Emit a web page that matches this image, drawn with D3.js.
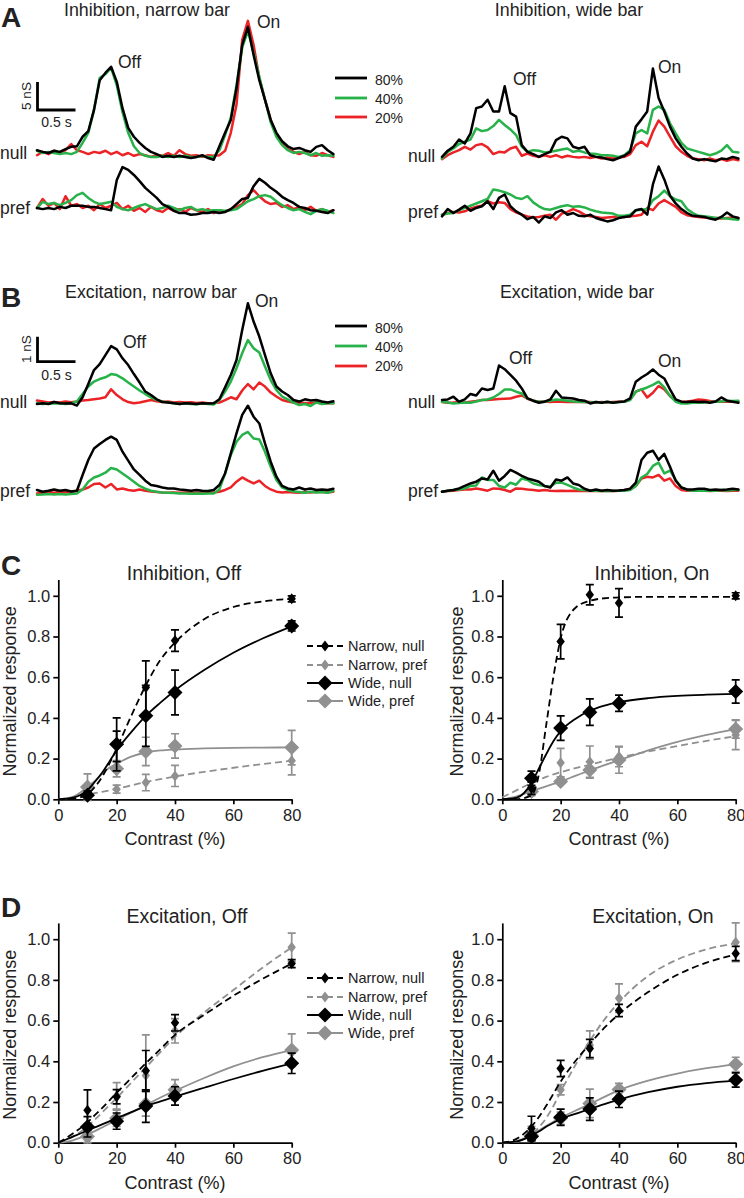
<!DOCTYPE html>
<html><head><meta charset="utf-8">
<script src="https://cdn.jsdelivr.net/npm/d3@7"></script>
<style>
body{margin:0;background:#fff}
svg{display:block}
text{font-family:"Liberation Sans",Arial,Helvetica,sans-serif;fill:#222}
</style>
</head><body>
<svg id="fig" width="744" height="1198"></svg>
<script>
// ---------------- DATA ----------------
// Conductance traces, sampled every 0.075 s (values in nS)
const sampleInterval = 0.075;
const contrastLabels = ["80%", "40%", "20%"];

// Inhibition, narrow bar
const inhNarrowNull80 = [0.5,0.2,0,0.4,0.2,0.7,1.1,1.2,2.9,3.9,
 7.7,13,14.3,15.4,12.7,8,4.5,2.9,1.8,0.9,
 0.2,-0.2,-0.7,-0.5,-0.7,-0.5,-0.7,-0.9,-0.7,-0.4,
 -0.9,-1.2,1.2,3.6,5.9,11.6,19.3,22.5,17.5,13,
 9.5,5.9,3.6,2.1,1.2,0.7,0.9,0.5,0.2,1.1,
 1.4,0.5,-0.2];
const inhNarrowNull40 = [0.4,0,0.2,0,-0.2,0,-0.2,0.2,1.8,3.6,
 7.7,13.4,14.1,15.2,12.1,7.3,3.6,1.2,0,-0.5,
 -0.7,-0.7,-0.5,-0.7,-0.5,-0.7,-0.5,-0.7,-0.7,-0.5,
 -0.7,-0.7,0.5,3.2,6.3,12.1,18.8,21.8,17.9,13.6,
 9.5,5.5,2.9,1.4,0.5,0,0.2,0,-0.4,0,
 -0.5,-0.4,-0.5];
const inhNarrowNull20 = [-0.4,0.2,-0.2,0.4,0,0.5,1.6,0.5,0.2,-0.2,
 0.2,0,0.4,-0.2,0.2,-0.4,0,-0.5,-0.2,-0.4,
 -0.7,-0.4,-0.5,0,-0.5,0.5,-0.2,-0.5,-0.4,-0.7,
 -0.4,-0.5,-0.4,0.4,3.6,8.6,20.2,23.6,19.3,13.4,
 9.5,5.9,3.4,1.8,0.7,0.2,-0.2,0.2,-0.4,-0.5,
 0,-0.4,-0.7];
const inhNarrowPref80 = [0,-0.2,0,-0.2,0.2,0,0.4,0.4,0.4,0.2,
 0.2,0,-0.2,-0.4,5,7.3,6.8,5.9,4.8,3.6,
 2.7,1.8,0.7,0.2,-0.5,-0.9,-0.9,-1.2,-1.1,-0.9,
 -0.9,-0.7,-0.9,-0.7,-0.2,0.7,1.6,1.8,3.9,5.2,
 4.5,3.6,2.9,2,1.4,0.9,0.2,0,-0.4,-0.5,
 -0.7,-0.9,-0.4];
const inhNarrowPref40 = [0,1.1,0.7,0.9,0.5,0.9,1.4,2.3,2.7,1.8,
 1.1,0.7,0.9,1.1,0.2,-0.2,-0.4,0,0.4,0.7,
 0.2,-0.2,0,0.4,0,-0.4,0,0.2,-0.4,-0.2,
 -0.5,-0.4,-0.4,-0.5,-0.4,-0.2,0.5,1.2,1.6,2.1,
 2.3,2,1.2,0.5,0,-0.4,-0.2,-0.7,-1.1,-0.5,
 -0.2,-0.5,-0.9];
const inhNarrowPref20 = [0,1.6,0.4,0.9,-0.2,2.1,0.4,0.7,0,0.4,
 -0.4,0.7,0,0.4,0.9,-0.2,0.4,-0.5,0,-0.7,
 0.2,-0.4,-0.7,0,-0.5,-0.2,-0.7,0,-0.4,-0.7,
 -0.2,-0.9,-0.4,-0.7,-0.2,0.2,0.7,2.3,3.2,2.1,
 1.2,0.7,0.9,0.2,0.5,-0.2,0.2,-0.4,0.2,-0.5,
 -0.2,-0.7,-0.4];

// Inhibition, wide bar
const inhWideNull80 = [0.2,1.3,2,3.3,2.6,4.4,8.9,9.2,10.4,8.3,
 8.3,12.8,8,7.4,2.3,1.1,0.7,0.2,0.7,1.1,
 3.2,3.8,3.5,2,1.7,2,0.5,0.2,0.1,-0.2,
 -0.4,0,0.4,1.1,5.6,6.9,8.3,16,10.7,8.3,
 5.6,3.5,2,0.8,-0.1,-0.4,-0.2,-0.4,-0.6,-0.1,
 -0.2,0.2,-0.1];
const inhWideNull40 = [-0.1,1.1,1.7,2.5,2.9,3.3,5.3,4.8,5,5.7,
 6.8,5.9,5.1,4.1,2,1.1,1.4,1.3,1,1.1,
 1.3,1.5,1.7,1.1,1.3,1,0.8,0.7,0.5,0.5,
 0.4,0.2,0.5,1.4,4.4,5,4.4,8.6,9.2,8.6,
 6.2,4.4,2.7,1.7,1.4,1.1,0.8,0.5,0.8,1.3,
 2.3,1.1,1];
const inhWideNull20 = [-0.2,0.5,1,1.4,2,1.5,2.3,2.5,1.9,0.7,
 1.1,1,1.7,2,0.4,0.8,0.4,0.2,0.5,0.2,
 0.5,0.1,0.4,0.2,0.1,0.2,0,0.2,-0.1,0.1,
 -0.1,0.1,0.2,0.7,2.3,2.9,2.1,4.7,6.7,5.6,
 3.8,2.1,1.1,0.4,-0.1,-0.2,-0.4,-0.1,-0.4,-0.2,
 -0.5,-0.2,-0.4];
const inhWidePref80 = [-0.6,0.7,0,0.6,1.3,0.4,0.9,1.2,2.1,0.7,
 2.7,3.3,1.2,0.3,-0.3,-1.1,-0.7,-1.7,-0.6,-0.9,
 0.1,0.5,-0.3,0,-0.5,-0.6,-0.3,-0.9,-1.2,-1.5,
 -1.3,-0.9,-0.7,-0.6,0.5,0.7,-0.3,5.1,8.3,6,
 3.1,1.7,0.7,0,-0.5,-0.6,-0.7,-1,-1.2,-0.7,
 0.1,-0.6,-0.9];
const inhWidePref40 = [-0.3,-0.1,0,0.5,0.9,1.3,1.7,2.1,2.5,4.2,
 4,3.7,3.3,2.7,2.5,3,1.9,1.2,0.7,0.6,
 0.9,1.2,1.4,1.1,1.2,1,0.6,0.3,0.1,0,
 -0.1,-0.5,-0.5,-0.3,0.5,0.6,0.7,2.3,3,4,
 3,2.4,2.1,0.7,0,-0.5,-0.6,-0.7,-0.9,-0.9,
 -1,-1.1,-1.2];
const inhWidePref20 = [-0.3,0,0.2,0.1,0.3,0.8,1.1,1.3,2.1,1.7,
 1.9,1.8,0.7,0.1,-0.3,-0.6,-0.8,-0.7,-0.5,-0.3,
 -1.2,-0.1,0.2,0.7,0.3,-0.3,-0.6,-0.7,-0.9,-0.8,
 -0.7,-0.6,-0.7,-0.6,-0.5,-0.3,0.9,0.5,1.7,2.3,
 1.7,1.1,0.1,-0.4,-0.6,-0.7,-0.8,-0.9,-0.9,-1,
 -0.9,-0.8,-0.9];

// Excitation, narrow bar
const excNarrowNull80 = [-0.03,0,-0.03,0.05,0,-0.01,0,-0.09,0.24,0.77,
 1.33,1.57,1.93,2.29,2.16,1.8,1.53,1.17,0.83,0.47,
 0.33,0.16,0.05,0.03,0,-0.03,0,-0.01,-0.03,0,
 -0.01,0,0.16,0.64,1.13,1.73,2.93,4,3.27,2.67,
 1.93,1.2,0.67,0.47,0.33,0.13,0.07,0.16,0.11,0.13,
 0.07,0.03,0.08];
const excNarrowNull40 = [0,-0.03,0,-0.01,0,-0.03,0,0.07,0.37,0.67,
 0.87,0.97,1.04,1.17,1.13,1,0.83,0.67,0.51,0.37,
 0.24,0.13,0.07,0.03,0,-0.03,0,-0.03,-0.04,-0.01,
 -0.03,-0.05,0.13,0.47,0.87,1.4,2,2.53,2.2,2.03,
 1.47,0.93,0.53,0.27,0.16,0.03,-0.07,-0.03,-0.11,0.03,
 -0.03,0,0];
const excNarrowNull20 = [0.11,0.07,0.03,0.05,0.03,0.07,0.04,0.07,0.11,0.13,
 0.16,0.19,0.24,0.56,0.33,0.16,0.05,0,0.03,0.08,
 0.13,0.08,0.05,0.07,0.03,0.05,0.03,0.04,0.01,0.03,
 0,0.01,0.03,0.13,0.24,0.16,0.51,0.77,0.56,0.83,
 0.67,0.43,0.27,0.13,0.07,0.03,0,0.01,0,0.03,
 0,0.01,0];
const excNarrowPref80 = [0.07,0,0.04,0.09,0.04,0.07,0.01,0.04,0.67,1.27,
 1.73,1.91,2.07,2.2,2.07,1.6,1.24,0.89,0.67,0.44,
 0.27,0.23,0.17,0.13,0.13,0.09,0.07,0.04,0.07,0.04,
 0.03,0.07,0.27,0.73,1.53,2.33,3.07,3.44,3,2.73,
 1.93,1.2,0.6,0.23,0.13,0.09,0.17,0.09,0.13,0.07,
 0.09,0.07,0.12];
const excNarrowPref40 = [-0.12,-0.11,-0.09,-0.11,-0.09,-0.11,-0.09,-0.07,0.09,0.4,
 0.57,0.65,0.76,0.95,0.89,0.73,0.57,0.4,0.23,0.12,
 0.04,0,-0.03,-0.04,-0.05,-0.07,-0.07,-0.08,-0.07,-0.08,
 -0.07,-0.07,0.09,0.73,1.47,2,2.27,2.39,2.13,2.09,
 1.6,1,0.47,0.17,0.07,0.01,-0.01,-0.04,0,-0.03,
 -0.01,-0.04,0.04];
const excNarrowPref20 = [-0.07,-0.04,-0.01,-0.04,0,-0.03,0,0.04,0.09,0.17,
 0.31,0.33,0.17,0.31,0.09,0.13,0.07,0.04,0.09,0.04,
 0.01,-0.01,-0.03,-0.04,-0.03,-0.04,-0.03,-0.04,-0.04,-0.03,
 -0.04,-0.03,0,0.07,0.17,0.4,0.57,0.44,0.33,0.44,
 0.23,0.09,0,-0.03,-0.01,-0.03,-0.04,-0.01,-0.03,0,
 -0.01,-0.03,0];

// Excitation, wide bar
const excWideNull80 = [0.07,0.09,0.2,0,0.09,0.31,0.25,0.53,0.47,0.53,
 1.45,1.3,1.07,0.84,0.53,0.13,0.04,-0.04,0,0.09,
 0.44,0.17,0.15,0.13,0.07,0.04,-0.07,-0.01,-0.04,0,
 -0.04,-0.01,0.01,0.13,0.8,0.97,1.11,1.29,1.08,0.93,
 0.49,0.09,0,-0.01,0.01,-0.01,0,-0.04,0.01,0.17,
 0.04,0,-0.04];
const excWideNull40 = [0,-0.03,-0.07,-0.05,-0.03,-0.04,0.01,0.07,0.09,0.17,
 0.31,0.49,0.49,0.4,0.33,0.13,0.04,0,0.01,0.04,
 0.09,0.07,0.04,0.01,0,-0.01,-0.03,-0.01,-0.03,-0.01,
 -0.03,-0.01,0,0.07,0.4,0.49,0.57,0.67,0.8,0.57,
 0.23,0,-0.07,-0.07,-0.04,-0.04,-0.03,-0.01,0,0.01,
 0.04,0.03,0.04];
const excWideNull20 = [-0.01,-0.04,-0.03,-0.01,-0.03,0,0.03,0.07,0.07,0.09,
 0.11,0.12,0.13,0.2,0.25,0.12,0.04,0,0.01,-0.01,
 0.01,0,-0.01,0,-0.01,0,-0.01,-0.03,-0.01,-0.03,
 -0.01,0,0.01,0.09,0.4,0.49,0.17,0.36,0.63,0.49,
 0.23,0.04,0,0.01,0.04,0.09,0.07,0.03,0,0.01,
 0,0.01,0];
const excWidePref80 = [-0.04,0,0.03,0.09,0.19,0.29,0.36,0.49,0.45,0.8,
 0.4,0.59,0.83,0.72,0.59,0.49,0.43,0.36,0.19,0.13,
 0.45,0.4,0.53,0.29,0.23,0.08,0,0.05,0,0.03,
 0,0.01,0.03,0.08,0.32,1.23,1.52,1.6,1.23,1.47,
 0.96,0.4,0.13,0.05,0.05,0.08,0.08,0.03,0.05,0.03,
 0.05,0.08,0.05];
const excWidePref40 = [-0.04,0,0.03,0.05,0.09,0.19,0.21,0.53,0.43,0.43,
 0.19,0.13,0.32,0.24,0.49,0.43,0.29,0.23,0.19,0.16,
 0.32,0.32,0.23,0.13,0.05,0.03,0,0,-0.01,0,
 -0.01,0,0,0.03,0.19,0.53,0.67,0.99,1.12,0.69,
 0.8,0.43,0.13,0.03,0,0.01,0,0.01,0,0.03,
 0.01,0.03,0.03];
const excWidePref20 = [-0.04,-0.01,0,0.03,0.05,0.05,0.09,0.05,0,0.09,
 0.08,0.03,-0.04,0.09,0.08,0.05,0.03,0,0.03,0,
 -0.01,0,-0.01,0,-0.01,0,-0.01,0,-0.01,0,
 -0.01,0,0.03,0.05,0.19,0.49,0.56,0.53,0.63,0.4,
 0.49,0.19,0.03,0,0,0,0,-0.01,0,0,
 -0.01,0,0];

// Contrast-response data (series order: Narrow null, Narrow pref, Wide null, Wide pref)
const seriesNames = ["Narrow, null", "Narrow, pref", "Wide, null", "Wide, pref"];
const contrastLevels = [10, 20, 30, 40, 80];
const fitContrast = [0, 5, 10, 12.5, 15, 17.5, 20, 25, 30, 35, 40, 50, 60, 70, 80];
const xTicks = [0, 20, 40, 60, 80];
const yTicks = [0, 0.2, 0.4, 0.6, 0.8, 1.0];

const inhOffMeans = [[0.025,0.26,0.55,0.78,0.985],[0.02,0.05,0.082,0.115,0.19],[0.02,0.27,0.41,0.525,0.852],[0.06,0.15,0.235,0.262,0.254]];
const inhOffSems  = [[0.015,0.075,0.13,0.053,0.015],[0.01,0.02,0.04,0.052,0.07],[0.01,0.13,0.15,0.11,0.025],[0.065,0.04,0.07,0.06,0.085]];
const inhOffFits  = [
 [0,0.003,0.025,0.06,0.11,0.175,0.25,0.41,0.56,0.685,0.77,0.885,0.945,0.972,0.985],
 [0,0.008,0.022,0.03,0.037,0.044,0.052,0.068,0.085,0.099,0.112,0.135,0.155,0.173,0.19],
 [0,0.008,0.045,0.085,0.13,0.185,0.24,0.33,0.41,0.475,0.535,0.635,0.72,0.79,0.85],
 [0,0.012,0.06,0.09,0.125,0.155,0.175,0.21,0.23,0.24,0.245,0.25,0.253,0.254,0.255]];

const inhOnMeans = [[0.054,0.775,1.005,0.965,1.0],[0.06,0.18,0.185,0.21,0.316],[0.103,0.35,0.428,0.472,0.53],[0.038,0.087,0.144,0.193,0.346]];
const inhOnSems  = [[0.03,0.085,0.05,0.07,0.015],[0.03,0.07,0.077,0.05,0.072],[0.035,0.06,0.065,0.04,0.057],[0.02,0.01,0.04,0.065,0.045]];
const inhOnFits  = [
 [0,0.001,0.02,0.12,0.36,0.6,0.79,0.94,0.975,0.988,0.992,0.995,0.995,0.995,0.995],
 [0.01,0.045,0.08,0.095,0.11,0.122,0.133,0.153,0.17,0.188,0.205,0.235,0.262,0.287,0.31],
 [0,0.008,0.08,0.15,0.22,0.285,0.335,0.395,0.435,0.46,0.477,0.497,0.508,0.514,0.518],
 [0,0.015,0.04,0.052,0.064,0.076,0.088,0.115,0.142,0.168,0.192,0.24,0.282,0.316,0.345]];

const excOffMeans = [[0.16,0.226,0.353,0.589,0.88],[0.04,0.23,0.33,0.55,0.96],[0.078,0.106,0.18,0.23,0.39],[0.03,0.12,0.19,0.26,0.455]];
const excOffSems  = [[0.1,0.035,0.1,0.04,0.02],[0.04,0.065,0.2,0.06,0.07],[0.05,0.04,0.08,0.045,0.05],[0.03,0.04,0.06,0.05,0.08]];
const excOffFits  = [
 [0,0.045,0.1,0.135,0.17,0.207,0.245,0.318,0.39,0.46,0.53,0.628,0.722,0.805,0.88],
 [0,0.03,0.08,0.113,0.148,0.184,0.22,0.295,0.37,0.445,0.52,0.64,0.75,0.86,0.96],
 [0,0.03,0.06,0.075,0.09,0.105,0.12,0.15,0.18,0.203,0.226,0.27,0.313,0.353,0.39],
 [0,0.012,0.04,0.057,0.075,0.093,0.112,0.148,0.185,0.222,0.255,0.318,0.375,0.42,0.455]];

const excOnMeans = [[0.07,0.365,0.463,0.65,0.93],[0.05,0.26,0.48,0.71,0.985],[0.03,0.125,0.165,0.213,0.308],[0.035,0.12,0.193,0.262,0.385]];
const excOnSems  = [[0.06,0.04,0.045,0.03,0.035],[0.03,0.025,0.07,0.07,0.095],[0.02,0.04,0.055,0.04,0.035],[0.02,0.03,0.07,0.03,0.035]];
const excOnFits  = [
 [0,0.02,0.08,0.125,0.18,0.24,0.3,0.4,0.485,0.565,0.632,0.74,0.825,0.885,0.925],
 [0,0.005,0.04,0.075,0.12,0.18,0.25,0.38,0.5,0.605,0.69,0.82,0.9,0.95,0.98],
 [0,0.006,0.035,0.055,0.078,0.098,0.116,0.142,0.166,0.19,0.212,0.248,0.275,0.293,0.305],
 [0,0.008,0.04,0.06,0.082,0.103,0.122,0.157,0.19,0.225,0.258,0.305,0.34,0.366,0.385]];

// ---------------- DRAWING ----------------
const svg = d3.select("#fig");
svg.append("rect").attr("width",744).attr("height",1198).attr("fill","#fff");
const BLACK = "#000", GREEN = "#27b24a", RED = "#ec2326", GRAY = "#909090";
const traceColors = [BLACK, GREEN, RED];   // 80%, 40%, 20%
const FONT = '"Liberation Sans",Arial,Helvetica,sans-serif';

function txt(x, y, s, size, opt = {}) {
  const t = svg.append("text").attr("x", x).attr("y", y).text(s)
    .attr("font-size", size).attr("text-anchor", opt.anchor || "start")
    .attr("font-weight", opt.bold ? "bold" : "normal");
  if (opt.rotate) t.attr("transform", `rotate(-90,${x},${y})`);
  return t;
}

// Panel letters
txt(1, 27, "A", 28, {bold: true});
txt(1, 307, "B", 28, {bold: true});
txt(1, 575, "C", 28, {bold: true});
txt(1, 917, "D", 28, {bold: true});

// ---- trace panels ----
const tracePanels = [
  {x0: 37,  title: "Inhibition, narrow bar", tx: 147, ty: 16, unit: 5, unitPx: 28,
   rows: [{label: "null", lx: 0, ly: 159, base: 153, traces: [inhNarrowNull80, inhNarrowNull40, inhNarrowNull20]},
          {label: "pref", lx: 0, ly: 214, base: 208, traces: [inhNarrowPref80, inhNarrowPref40, inhNarrowPref20]}],
   off: [118, 68], on: [257, 28]},
  {x0: 442, title: "Inhibition, wide bar", tx: 569, ty: 16, unit: 5, unitPx: 28,
   rows: [{label: "null", lx: 408, ly: 162, base: 158, traces: [inhWideNull80, inhWideNull40, inhWideNull20]},
          {label: "pref", lx: 408, ly: 218, base: 213, traces: [inhWidePref80, inhWidePref40, inhWidePref20]}],
   off: [513, 85], on: [658, 73]},
  {x0: 37,  title: "Excitation, narrow bar", tx: 151, ty: 298, unit: 1, unitPx: 25,
   rows: [{label: "null", lx: 0, ly: 408, base: 403.3, traces: [excNarrowNull80, excNarrowNull40, excNarrowNull20]},
          {label: "pref", lx: 0, ly: 497, base: 491.7, traces: [excNarrowPref80, excNarrowPref40, excNarrowPref20]}],
   off: [123, 348], on: [255, 307]},
  {x0: 442, title: "Excitation, wide bar", tx: 577, ty: 298, unit: 1, unitPx: 25,
   rows: [{label: "null", lx: 408, ly: 408, base: 401.7, traces: [excWideNull80, excWideNull40, excWideNull20]},
          {label: "pref", lx: 408, ly: 497, base: 490.7, traces: [excWidePref80, excWidePref40, excWidePref20]}],
   off: [509, 364], on: [658, 367]}
];

tracePanels.forEach(p => {
  const x = d3.scaleLinear().domain([0, 0.5]).range([p.x0, p.x0 + 38]);
  txt(p.tx, p.ty, p.title, 17.8, {anchor: "middle"});
  p.rows.forEach(r => {
    const y = d3.scaleLinear().domain([0, p.unit]).range([r.base, r.base - p.unitPx]);
    const line = d3.line().x((d, i) => x(i * sampleInterval)).y(d => y(d));
    // draw red, green, then black on top
    [2, 1, 0].forEach(k => {
      svg.append("path").attr("d", line(r.traces[k])).attr("fill", "none")
        .attr("stroke", traceColors[k]).attr("stroke-width", 2.5)
        .attr("stroke-linejoin", "round").attr("stroke-linecap", "round");
    });
    txt(r.lx, r.ly, r.label, 17.5);
  });
  txt(p.off[0], p.off[1], "Off", 17.5);
  txt(p.on[0], p.on[1], "On", 17.5);
});

// scale bars
function scaleBar(x0, yBottom, unit, unitPx, label, textY) {
  const ts = d3.scaleLinear().domain([0, 0.5]).range([x0, x0 + 38]);
  const cs = d3.scaleLinear().domain([0, unit]).range([yBottom, yBottom - unitPx]);
  svg.append("path")
    .attr("d", `M${ts(0)},${cs(unit)}L${ts(0)},${cs(0)}L${ts(0.5)},${cs(0)}`)
    .attr("fill", "none").attr("stroke", BLACK).attr("stroke-width", 2.8);
  txt(x0 - 6.5, (cs(0) + cs(unit)) / 2, label, 13.5, {anchor: "middle", rotate: true});
  txt((ts(0) + ts(0.5)) / 2, textY, "0.5 s", 14, {anchor: "middle"});
}
scaleBar(37.5, 110, 5, 28, "5 nS", 127);
scaleBar(37.5, 361.7, 1, 25, "1 nS", 380);

// contrast legends for traces
function traceLegend(ys, tys) {
  contrastLabels.forEach((lab, k) => {
    svg.append("line").attr("x1", 335).attr("x2", 367).attr("y1", ys[k]).attr("y2", ys[k])
      .attr("stroke", traceColors[k]).attr("stroke-width", 2.8);
    txt(375, tys[k], lab, 14);
  });
}
traceLegend([78, 98, 117], [85, 104, 123]);
traceLegend([326, 346, 366], [333, 352, 371]);

// ---- contrast panels ----
const seriesStyle = [
  {color: BLACK, dash: "7,4", big: false},
  {color: GRAY,  dash: "7,4", big: false},
  {color: BLACK, dash: null,  big: true},
  {color: GRAY,  dash: null,  big: true}
];
const drawOrder = [1, 3, 0, 2];

function diamond(w, h) { return `M0,${-h}L${w},0L0,${h}L${-w},0Z`; }
function markerPath(big) { return big ? diamond(7.5, 7.5) : diamond(4.2, 5.5); }

const contrastPanels = [
  {x0: 58.3,  y0: 799.3,  title: "Inhibition, Off", tx: 184, ty: 580, means: inhOffMeans, sems: inhOffSems, fits: inhOffFits, ylx: 16},
  {x0: 502.3, y0: 799.3,  title: "Inhibition, On",  tx: 652, ty: 580, means: inhOnMeans,  sems: inhOnSems,  fits: inhOnFits,  ylx: 463},
  {x0: 58.3,  y0: 1142.7, title: "Excitation, Off", tx: 187, ty: 923, means: excOffMeans, sems: excOffSems, fits: excOffFits, ylx: 16},
  {x0: 502.3, y0: 1142.7, title: "Excitation, On",  tx: 653, ty: 923, means: excOnMeans,  sems: excOnSems,  fits: excOnFits,  ylx: 463}
];

contrastPanels.forEach(p => {
  const x = d3.scaleLinear().domain([0, 80]).range([p.x0, p.x0 + 233.4]);
  const y = d3.scaleLinear().domain([0, 1.08]).range([p.y0, p.y0 - 203.5 * 1.08]);
  const g = svg.append("g");

  const ya = g.append("g").attr("transform", `translate(${p.x0},0)`)
    .call(d3.axisLeft(y).tickValues(yTicks).tickFormat(d3.format(".1f")).tickSize(5).tickSizeOuter(0).tickPadding(3));
  const xa = g.append("g").attr("transform", `translate(0,${p.y0})`)
    .call(d3.axisBottom(x).tickValues(xTicks).tickSize(5).tickSizeOuter(0).tickPadding(5));
  [ya, xa].forEach(a => {
    a.attr("font-family", FONT).attr("font-size", 16.5);
    a.selectAll("path, line").attr("stroke", BLACK).attr("stroke-width", 1.7);
    a.selectAll("text").attr("fill", "#222");
  });

  txt(p.tx, p.ty, p.title, 19.5, {anchor: "middle"});
  txt(p.ylx, (y(0) + y(1.08)) / 2 + 2, "Normalized response", 18, {anchor: "middle", rotate: true});
  txt((x(0) + x(80)) / 2, p.y0 + 46, "Contrast (%)", 18, {anchor: "middle"});

  drawOrder.forEach(s => {
    const st = seriesStyle[s];
    const line = d3.line().x((d, i) => x(fitContrast[i])).y(d => y(d)).curve(d3.curveMonotoneX);
    g.append("path").attr("d", line(p.fits[s])).attr("fill", "none")
      .attr("stroke", st.color).attr("stroke-width", 1.8)
      .attr("stroke-dasharray", st.dash);
    contrastLevels.forEach((c, i) => {
      const m = p.means[s][i], e = p.sems[s][i];
      const cx = x(c), y1 = y(m + e), y2 = y(m - e);
      g.append("path")
        .attr("d", `M${cx},${y1}L${cx},${y2}M${cx - 4},${y1}L${cx + 4},${y1}M${cx - 4},${y2}L${cx + 4},${y2}`)
        .attr("stroke", st.color).attr("stroke-width", 1.7).attr("fill", "none");
      g.append("path").attr("d", markerPath(st.big))
        .attr("transform", `translate(${cx},${y(m)})`).attr("fill", st.color);
    });
  });
});

// contrast legends
function contrastLegend(rowsY) {
  seriesNames.forEach((name, s) => {
    const st = seriesStyle[s];
    const yy = rowsY[s];
    svg.append("line").attr("x1", 307).attr("x2", 343).attr("y1", yy).attr("y2", yy)
      .attr("stroke", st.color).attr("stroke-width", 1.8).attr("stroke-dasharray", st.dash ? "6,4" : null);
    svg.append("path").attr("d", markerPath(st.big)).attr("transform", `translate(325,${yy})`).attr("fill", st.color);
    txt(348, yy + 5, name, 14.5);
  });
}
contrastLegend([646, 665, 683, 701]);
contrastLegend([978, 997, 1015, 1033]);
</script>
</body></html>
